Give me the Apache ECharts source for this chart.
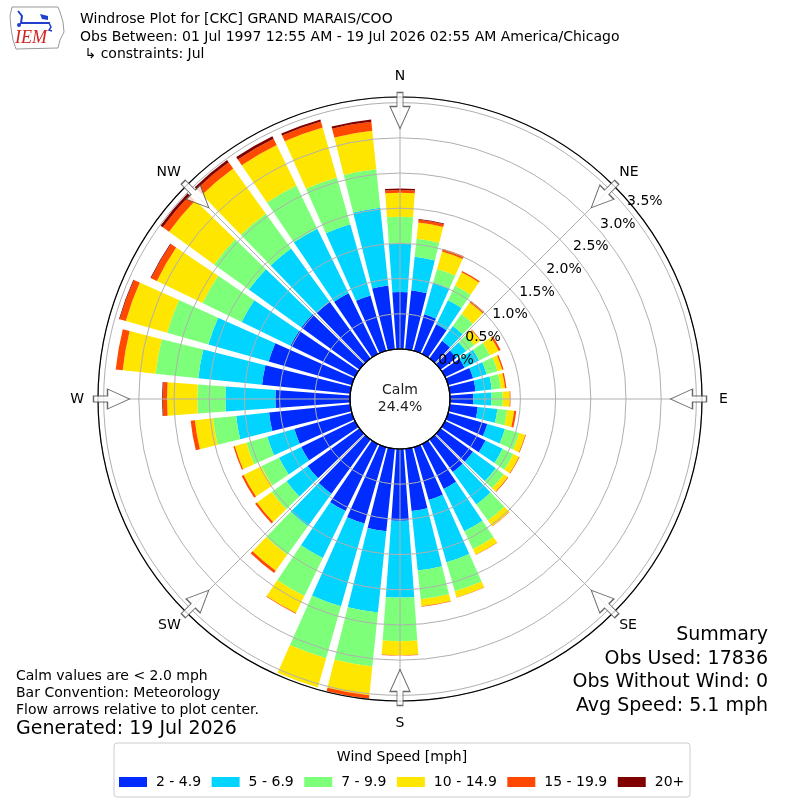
<!DOCTYPE html>
<html><head><meta charset="utf-8">
<script src="https://cdn.jsdelivr.net/npm/echarts@6/dist/echarts.min.js"></script>
<style>html,body{margin:0;padding:0;background:#fff}#c{width:800px;height:800px}</style>
</head><body><div id="c"></div>
<script>
// ---- data ----
const directions = [0,10,20,30,40,50,60,70,80,90,100,110,120,130,140,150,160,170,180,190,200,210,220,230,240,250,260,270,280,290,300,310,320,330,340,350];
const speedBins = ['2 - 4.9','5 - 6.9','7 - 9.9','10 - 14.9','15 - 19.9','20+'];
const speed2to5   = [0.81,0.84,0.54,0.47,0.31,0.28,0.31,0.37,0.37,0.33,0.40,0.58,0.64,0.57,0.57,0.71,0.78,0.89,1.02,1.18,1.13,1.06,0.95,0.91,0.85,0.85,1.16,1.06,1.26,1.23,1.02,1.02,0.99,0.96,0.82,0.91];
const speed5to7   = [0.69,0.48,0.47,0.38,0.26,0.17,0.23,0.20,0.23,0.26,0.28,0.26,0.27,0.40,0.57,0.67,0.92,0.85,1.09,1.16,1.22,0.74,0.57,0.37,0.35,0.40,0.47,0.71,0.91,0.89,0.77,0.92,0.94,1.02,1.05,1.11];
const speed7to10  = [0.38,0.26,0.20,0.23,0.21,0.14,0.17,0.16,0.13,0.16,0.14,0.21,0.17,0.14,0.28,0.28,0.43,0.41,0.62,0.77,0.77,0.60,0.50,0.26,0.28,0.31,0.33,0.40,0.61,0.61,0.62,0.61,0.61,0.68,0.69,0.55];
const speed10to15 = [0.34,0.23,0.26,0.21,0.20,0.11,0.14,0.07,0.06,0.10,0.10,0.09,0.09,0.07,0.10,0.09,0.09,0.10,0.20,0.41,0.43,0.27,0.28,0.26,0.28,0.17,0.26,0.43,0.47,0.61,0.72,0.79,0.79,0.64,0.74,0.55];
const speed15to20 = [0.04,0.04,0.04,0.02,0.03,0.01,0.03,0.02,0.02,0.01,0.03,0.01,0.01,0.01,0.005,0.005,0.005,0.005,0.005,0.05,0,0.01,0.04,0.03,0.03,0.02,0.06,0.06,0.10,0.09,0.09,0.11,0.11,0.10,0.09,0.13];
const speed20plus = [0.02,0.01,0,0,0,0,0,0,0,0,0,0,0,0,0,0,0,0,0,0,0,0,0,0,0,0,0,0.01,0,0.01,0.01,0.04,0.04,0.04,0.03,0.03];
const radialTickLabels = ['0.0%','0.5%','1.0%','1.5%','2.0%','2.5%','3.0%','3.5%'];
const compassAngles = [0,45,90,135,180,225,270,315];
const compassLabels = ['N','NE','E','SE','S','SW','W','NW'];
const calmPercent = '24.4%';
const titleLines = ['Windrose Plot for [CKC] GRAND MARAIS/COO',
  'Obs Between: 01 Jul 1997 12:55 AM - 19 Jul 2026 02:55 AM America/Chicago',
  ' \u21B3 constraints: Jul'];
const summaryLines = ['Summary','Obs Used: 17836','Obs Without Wind: 0','Avg Speed: 5.1 mph'];
const noteLines = ['Calm values are < 2.0 mph','Bar Convention: Meteorology','Flow arrows relative to plot center.'];
const generatedLine = 'Generated: 19 Jul 2026';

// ---- style ----
const binColors = ['#002cff','#00d4ff','#7dff7a','#ffe600','#ff4800','#800000'];
const FONT = 'DejaVu Sans';
const CX = 400, CY = 399, R_IN = 50, R_OUT = 302, R_MAX = 3.58;
const ARROW_R = (288.5 - R_IN) / (R_OUT - R_IN) * R_MAX;
const gridColor = '#b0b0b0';
// extra offset for the four cardinal labels (rich-text style keys)
const compassStyleKey = ['n','d','e','d','s','d','w','d'];

const seriesData = [speed2to5, speed5to7, speed7to10, speed10to15, speed15to20, speed20plus];

const chart = echarts.init(document.getElementById('c'), null, {renderer: 'canvas'});

const barSeries = speedBins.map((name, i) => ({
  name, type: 'bar', coordinateSystem: 'polar', polarIndex: 0, stack: 'wind',
  data: seriesData[i], barCategoryGap: '18%', itemStyle: {color: binColors[i]},
  z: 2, silent: true
}));

const arrowSeries = {
  type: 'scatter', coordinateSystem: 'polar', polarIndex: 1, z: 6, silent: true,
  symbol: 'path://M7,0 L13,0 L13,14 L20,14 L10,36 L0,14 L7,14 Z',
  symbolSize: [20, 36], symbolKeepAspect: false,
  itemStyle: {color: '#ffffff', borderColor: '#444444', borderWidth: 1.1},
  data: compassAngles.map(a => ({value: [ARROW_R, a], symbolRotate: -a}))
};

const texts = [];
titleLines.forEach((t, i) => texts.push({type: 'text', x: 80, y: [19, 37, 54][i],
  style: {text: t, font: '14px "' + FONT + '"', fill: '#000', textVerticalAlign: 'middle'}}));
summaryLines.forEach((t, i) => texts.push({type: 'text', x: 768, y: 635 + i * 23.7,
  style: {text: t, font: '19px "' + FONT + '"', fill: '#000', textAlign: 'right', textVerticalAlign: 'middle'}}));
noteLines.forEach((t, i) => texts.push({type: 'text', x: 16, y: 676 + i * 17,
  style: {text: t, font: '14px "' + FONT + '"', fill: '#000', textVerticalAlign: 'middle'}}));
texts.push({type: 'text', x: 16, y: 729, style: {text: generatedLine, font: '19px "' + FONT + '"', fill: '#000', textVerticalAlign: 'middle'}});
texts.push({type: 'text', x: CX, y: CY, z: 10, style: {text: 'Calm\n' + calmPercent, font: '14px "' + FONT + '"', fill: '#222', textAlign: 'center', textVerticalAlign: 'middle', lineHeight: 17}});
// legend frame + title
texts.push({type: 'rect', z: 0, shape: {x: 114, y: 743, width: 576, height: 54, r: 3}, style: {fill: '#fff', stroke: '#cccccc', lineWidth: 1}});
texts.push({type: 'text', x: 402, y: 757, z: 5, style: {text: 'Wind Speed [mph]', font: '14px "' + FONT + '"', fill: '#000', textAlign: 'center', textVerticalAlign: 'middle'}});
// IEM logo
texts.push({type: 'polygon', shape: {points: [[12,7],[58,7],[60,12],[63,22],[64,32],[60,40],[58,48],[16,49],[13,40],[11,28],[10,16]]}, style: {fill: 'none', stroke: '#999', lineWidth: 1}});
texts.push({type: 'text', x: 15, y: 38, style: {text: 'IEM', font: 'italic 18px "Liberation Serif"', fill: '#d42020', textVerticalAlign: 'middle'}});
texts.push({type: 'polyline', shape: {points: [[20,23],[50,23]]}, style: {stroke: '#1f3fcf', lineWidth: 2}});
texts.push({type: 'polyline', shape: {points: [[18,11],[22,16],[21,23]]}, style: {stroke: '#1f3fcf', lineWidth: 2}});
texts.push({type: 'polygon', shape: {points: [[40,14],[48,16],[48,20],[42,19]]}, style: {fill: '#1f3fcf'}});
texts.push({type: 'polyline', shape: {points: [[49,23],[51,27],[49,30],[52,31]]}, style: {stroke: '#1f3fcf', lineWidth: 1.5}});
texts.push({type: 'circle', shape: {cx: 19, cy: 25, r: 2}, style: {fill: '#1f3fcf'}});

const labelRich = {
  n: {fontSize: 14, color: '#000', fontFamily: FONT, padding: [0, 0, 6, 0]},
  s: {fontSize: 14, color: '#000', fontFamily: FONT, padding: [7, 0, 0, 0]},
  e: {fontSize: 14, color: '#000', fontFamily: FONT, padding: [0, 0, 0, 9]},
  w: {fontSize: 14, color: '#000', fontFamily: FONT, padding: [0, 6, 0, 0]},
  d: {fontSize: 14, color: '#000', fontFamily: FONT}
};

const option = {
  animation: false,
  backgroundColor: '#ffffff',
  textStyle: {fontFamily: FONT},
  legend: {
    data: speedBins, left: 119, top: 775, padding: 0, itemWidth: 28, itemHeight: 10, itemGap: 10.5,
    icon: 'rect', selectedMode: false, z: 5,
    textStyle: {fontSize: 14, color: '#000', fontFamily: FONT, padding: [0, 0, 0, 4]}
  },
  polar: [
    {center: [CX, CY], radius: [R_IN, R_OUT]},
    {center: [CX, CY], radius: [R_IN, R_OUT]},
    {center: [CX, CY], radius: [0, R_IN]},
    {center: [CX, CY], radius: [R_IN, R_OUT]}
  ],
  angleAxis: [
    {polarIndex: 0, type: 'category', data: directions, startAngle: 95, clockwise: true,
     axisLine: {show: false}, axisTick: {show: false}, axisLabel: {show: false}, splitLine: {show: false}, z: 1},
    {polarIndex: 1, type: 'value', min: 0, max: 360, interval: 45, startAngle: 90, clockwise: true, z: 4,
     axisLine: {show: true, lineStyle: {color: '#000', width: 1.2}},
     axisTick: {show: false},
     splitLine: {show: true, lineStyle: {color: gridColor, width: 1}},
     axisLabel: {show: true, margin: 8, fontSize: 14, color: '#000', fontFamily: FONT, rich: labelRich,
       formatter: v => { const i = compassAngles.indexOf(v); return i >= 0 ? '{' + compassStyleKey[i] + '|' + compassLabels[i] + '}' : ''; }}},
    {polarIndex: 2, type: 'value', min: 0, max: 360, startAngle: 90, z: 5,
     axisLine: {show: true, lineStyle: {color: '#000', width: 1.2}},
     axisTick: {show: false}, axisLabel: {show: false}, splitLine: {show: false}},
    {polarIndex: 3, type: 'value', min: 0, max: 360, startAngle: 40, show: false}
  ],
  radiusAxis: [
    {polarIndex: 0, type: 'value', min: 0, max: R_MAX, interval: 0.5, z: 3,
     axisLine: {show: false}, axisTick: {show: false}, axisLabel: {show: false},
     splitLine: {show: true, lineStyle: {color: gridColor, width: 1}}},
    {polarIndex: 1, type: 'value', min: 0, max: R_MAX, show: false},
    {polarIndex: 2, type: 'value', min: 0, max: 1, show: false},
    {polarIndex: 3, type: 'value', min: 0, max: R_MAX, interval: 0.5, z: 6,
     axisLine: {show: false}, axisTick: {show: false}, splitLine: {show: false},
     axisLabel: {show: true, margin: 0, align: 'left', verticalAlign: 'bottom', fontSize: 14, color: '#000', fontFamily: FONT,
       formatter: v => { const i = Math.round(v / 0.5); return (Math.abs(v - i * 0.5) < 1e-6 && i < radialTickLabels.length) ? radialTickLabels[i] : ''; }}}
  ],
  graphic: texts,
  series: [...barSeries, arrowSeries]
};
chart.setOption(option);
</script></body></html>
